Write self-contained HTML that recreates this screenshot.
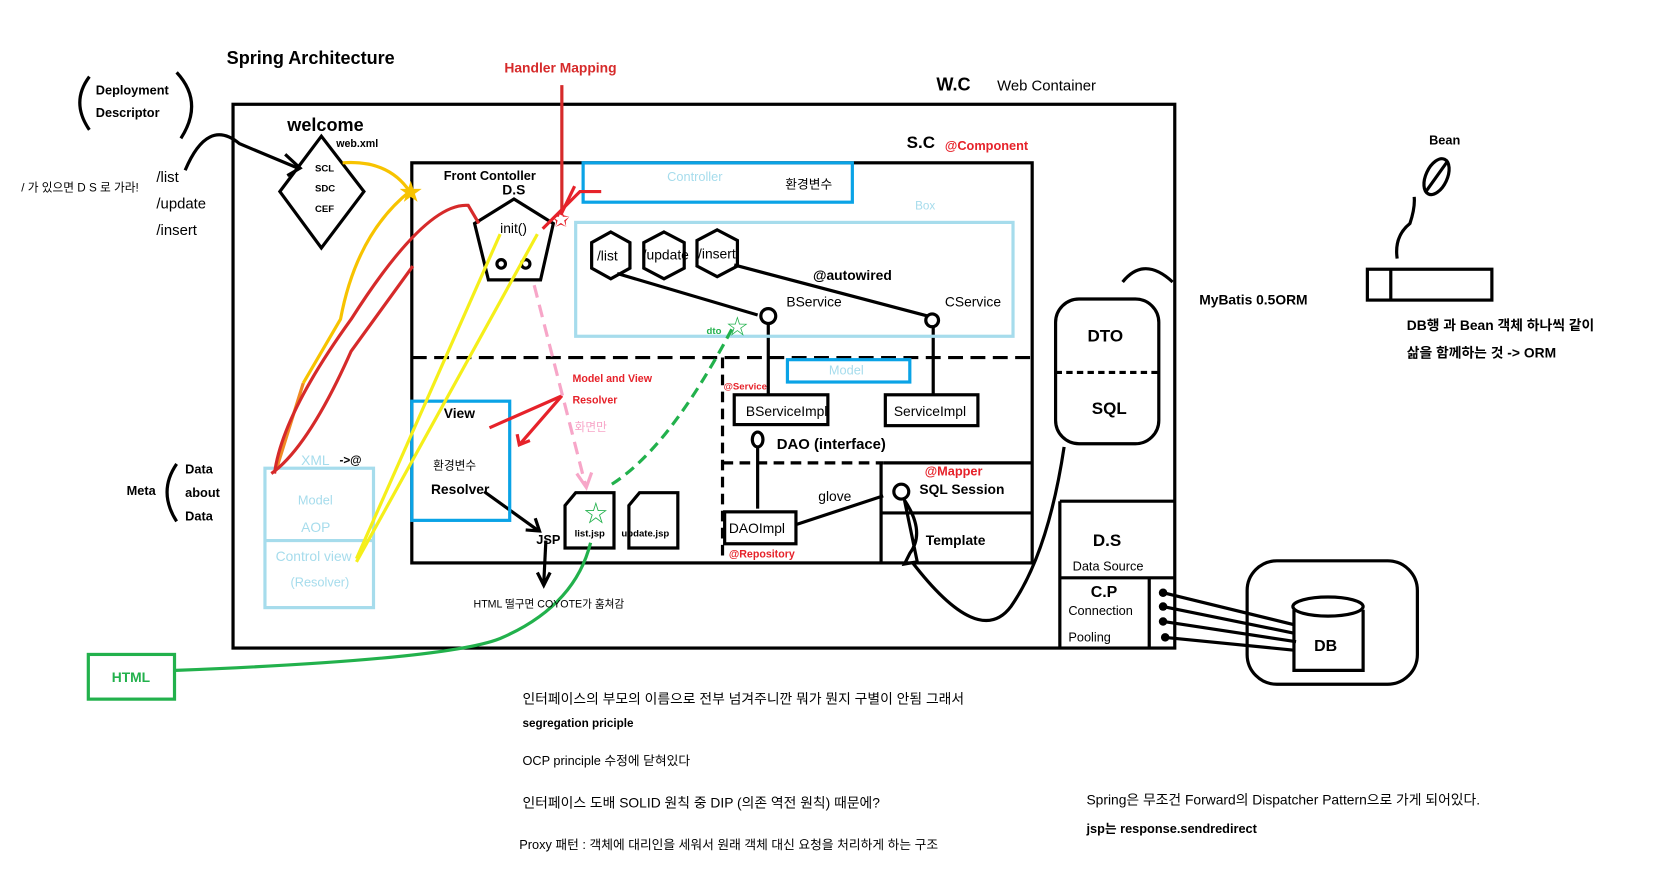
<!DOCTYPE html>
<html><head><meta charset="utf-8"><style>
html,body{margin:0;padding:0;background:#fff;width:1660px;height:896px;overflow:hidden}
svg{display:block}
text{font-family:"Liberation Sans","Noto Sans CJK KR",sans-serif}
.b{font-weight:bold}
</style></head><body>
<svg width="1660" height="896" viewBox="0 0 1560 842" preserveAspectRatio="none" xmlns="http://www.w3.org/2000/svg">
<g fill="none" stroke="#000" stroke-width="3">
<!-- W.C outer -->
<rect x="219" y="98" width="885" height="511"/>
<!-- S.C -->
<rect x="387" y="153" width="583" height="376"/>
<line x1="387" y1="336" x2="970" y2="336" stroke-dasharray="14,7"/>
<line x1="679" y1="336" x2="679" y2="529" stroke-dasharray="10,6"/>
<line x1="679" y1="435" x2="830" y2="435" stroke-dasharray="10,6"/>
<line x1="830" y1="435" x2="970" y2="435"/>
<line x1="828" y1="435" x2="828" y2="529"/>
<line x1="828" y1="482" x2="970" y2="482"/>
<!-- welcome diamond -->
<polygon points="302,128 342,180 302,233 263,180"/>
<!-- DS pentagon -->
<polygon points="483,187 520,210 508,263 459,263 446,210"/>
<circle cx="471" cy="248" r="4"/><circle cx="494" cy="248" r="4"/>
<!-- hexagons -->
<polygon points="574,218 592,228 592,252 574,262 556,252 556,228"/>
<polygon points="624,218 643,228 643,252 624,262 605,252 605,228"/>
<polygon points="674,216 693,226 693,250 674,260 655,250 655,226"/>
<line x1="580" y1="257" x2="712" y2="296"/>
<line x1="690" y1="249" x2="872" y2="297"/>
<circle cx="722" cy="297" r="7"/><circle cx="876" cy="301" r="6"/>
<line x1="722" y1="305" x2="722" y2="370"/>
<line x1="877" y1="307" x2="877" y2="370"/>
<rect x="690" y="371" width="88" height="28"/>
<rect x="832" y="371" width="87" height="29"/>
<ellipse cx="712" cy="413" rx="5" ry="7"/>
<line x1="712" y1="420" x2="712" y2="478"/>
<rect x="681" y="481" width="67" height="30"/>
<line x1="748" y1="493" x2="830" y2="466"/>
<circle cx="847" cy="462" r="7"/>
<path d="M850 470 Q870 500 855 520 L850 530 L862 528 Z"/>
<path d="M857 528 Q920 610 950 570 Q985 520 1000 420"/>
<!-- files -->
<path d="M531 475 L541 463 L577 463 L577 515 L531 515 Z"/>
<path d="M591 475 L601 463 L637 463 L637 515 L591 515 Z"/>
<!-- DTO SQL -->
<rect x="992" y="281" width="97" height="136" rx="22"/>
<line x1="992" y1="350" x2="1089" y2="350" stroke-dasharray="6,4"/>
<path d="M1055 265 Q1075 240 1102 265"/>
<!-- DS / CP -->
<line x1="996" y1="471" x2="1104" y2="471"/>
<line x1="996" y1="471" x2="996" y2="609"/>
<line x1="996" y1="543" x2="1104" y2="543"/>
<line x1="1080" y1="543" x2="1080" y2="609"/>
<!-- DB -->
<rect x="1172" y="527" width="160" height="116" rx="28"/>
<path d="M1216 573 L1216 630 L1281 630 L1281 573"/>
<ellipse cx="1248" cy="570" rx="33" ry="9" fill="#fff"/>
<line x1="1093" y1="557" x2="1216" y2="587"/>
<line x1="1093" y1="570" x2="1216" y2="595"/>
<line x1="1093" y1="584" x2="1218" y2="603"/>
<line x1="1095" y1="599" x2="1216" y2="611"/>
<!-- brackets -->
<path d="M84 72 Q66 96 84 122"/><path d="M166 68 Q192 96 170 130"/>
<path d="M166 436 Q148 462 166 490"/>
<!-- arrow to diamond -->
<path d="M174 160 Q195 110 225 135 L280 158"/>
<path d="M268 145 L282 158 L270 165"/>
<!-- JSP arrows -->
<path d="M455 462 L505 498"/><path d="M494 498 L507 499 L503 487"/>
<path d="M513 508 L511 548"/><path d="M505 538 L511 550 L517 538"/>
<!-- Bean -->
<rect x="1285" y="253" width="117" height="29"/>
<line x1="1307" y1="253" x2="1307" y2="282"/>
<path d="M1313 243 Q1310 222 1325 210 Q1330 195 1329 185"/>
<ellipse cx="1350" cy="166" rx="10" ry="18" transform="rotate(25 1350 166)"/>
<line x1="1340" y1="180" x2="1360" y2="152"/>
</g>
<circle cx="1093" cy="557" r="4"/><circle cx="1093" cy="570" r="4"/><circle cx="1093" cy="584" r="4"/><circle cx="1095" cy="599" r="4"/>
<!-- blue boxes -->
<g fill="none" stroke="#0aa3e6" stroke-width="3">
<rect x="548" y="153" width="253" height="37"/>
<rect x="740" y="338" width="115" height="21"/>
<rect x="387" y="377" width="92" height="112"/>
</g>
<g fill="none" stroke="#a6dcec" stroke-width="3">
<rect x="541" y="209" width="411" height="107"/>
<rect x="249" y="440" width="102" height="131"/>
<line x1="249" y1="508" x2="351" y2="508"/>
</g>
<!-- colored curves -->
<g fill="none" stroke-width="3">
<path d="M322 153 Q365 150 385 180" stroke="#f7c300"/>
<path d="M385 180 Q335 220 320 300 L285 360" stroke="#f7c300"/>
<path d="M285 360 L260 440" stroke="#f08a24"/>
<path d="M258 445 Q265 390 330 300 Q400 190 440 193 L450 210" stroke="#d62a2a"/>
<path d="M255 445 Q290 420 330 330 L388 250" stroke="#d62a2a"/>
<path d="M335 525 L470 220" stroke="#f5ef1a"/>
<path d="M335 528 L505 220" stroke="#f5ef1a"/>
<path d="M528 200 L528 80" stroke="#d62a2a"/>
<path d="M510 215 L545 180 L565 180" stroke="#e6222a"/>
<path d="M527 202 L540 175" stroke="#e6222a"/>
<path d="M460 402 L528 372 L488 418" stroke="#e6222a"/>
<path d="M486 408 L488 418 L498 414" stroke="#e6222a"/>
<path d="M502 268 L550 455" stroke="#f7a6c8" stroke-dasharray="12,7"/>
<path d="M542 445 L551 458 L556 444" stroke="#f7a6c8"/>
<path d="M575 455 Q630 420 690 305" stroke="#22b14c" stroke-dasharray="10,6"/>
<path d="M165 630 Q420 620 470 600 Q540 570 555 510" stroke="#22b14c"/>
</g>
<rect x="83" y="615" width="81" height="42" fill="none" stroke="#22b14c" stroke-width="3"/>
<text x="386" y="188" font-size="22" fill="#f7c300" text-anchor="middle">★</text>
<text x="527" y="213" font-size="20" fill="#e6222a" text-anchor="middle">✩</text>
<text x="693" y="314" font-size="20" fill="#22b14c" text-anchor="middle">☆</text>
<text x="560" y="490" font-size="22" fill="#22b14c" text-anchor="middle">☆</text>
<!-- texts -->
<g fill="#000">
<text x="213" y="60" font-size="17" class="b">Spring Architecture</text>
<text x="90" y="89" font-size="12" class="b">Deployment</text>
<text x="90" y="110" font-size="12" class="b">Descriptor</text>
<text x="270" y="123" font-size="17" class="b">welcome</text>
<text x="316" y="138" font-size="10" class="b">web.xml</text>
<text x="296" y="161" font-size="9" class="b">SCL</text>
<text x="296" y="180" font-size="9" class="b">SDC</text>
<text x="296" y="199" font-size="9" class="b">CEF</text>
<text x="20" y="180" font-size="11">/ 가 있으면 D S 로 가라!</text>
<text x="147" y="171" font-size="14">/list</text>
<text x="147" y="196" font-size="14">/update</text>
<text x="147" y="221" font-size="14">/insert</text>
<text x="880" y="85" font-size="17" class="b">W.C</text>
<text x="937" y="85" font-size="14">Web Container</text>
<text x="852" y="139" font-size="16" class="b">S.C</text>
<text x="417" y="169" font-size="12" class="b">Front Contoller</text>
<text x="472" y="183" font-size="13" class="b">D.S</text>
<text x="470" y="219" font-size="13">init()</text>
<text x="561" y="245" font-size="13">/list</text>
<text x="604" y="244" font-size="13">/update</text>
<text x="656" y="243" font-size="13">/insert</text>
<text x="764" y="263" font-size="13" class="b">@autowired</text>
<text x="739" y="288" font-size="13">BService</text>
<text x="888" y="288" font-size="13">CService</text>
<text x="738" y="177" font-size="12">환경변수</text>
<text x="701" y="391" font-size="13">BServiceImpl</text>
<text x="840" y="391" font-size="13">ServiceImpl</text>
<text x="730" y="422" font-size="14" class="b">DAO (interface)</text>
<text x="769" y="471" font-size="13">glove</text>
<text x="864" y="464" font-size="13" class="b">SQL Session</text>
<text x="870" y="512" font-size="13" class="b">Template</text>
<text x="685" y="501" font-size="13">DAOImpl</text>
<text x="417" y="393" font-size="13" class="b">View</text>
<text x="407" y="441" font-size="11">환경변수</text>
<text x="405" y="464" font-size="13" class="b">Resolver</text>
<text x="504" y="511" font-size="12" class="b">JSP</text>
<text x="540" y="504" font-size="9" class="b">list.jsp</text>
<text x="584" y="504" font-size="9" class="b">update.jsp</text>
<text x="445" y="571" font-size="10">HTML 떨구면 COYOTE가 훔쳐감</text>
<text x="1022" y="321" font-size="16" class="b">DTO</text>
<text x="1026" y="389" font-size="16" class="b">SQL</text>
<text x="1127" y="286" font-size="13" class="b">MyBatis  0.5ORM</text>
<text x="1027" y="513" font-size="16" class="b">D.S</text>
<text x="1008" y="536" font-size="12">Data Source</text>
<text x="1025" y="561" font-size="15" class="b">C.P</text>
<text x="1004" y="578" font-size="12">Connection</text>
<text x="1004" y="603" font-size="12">Pooling</text>
<text x="1235" y="612" font-size="15" class="b">DB</text>
<text x="1343" y="136" font-size="12" class="b">Bean</text>
<text x="1322" y="310" font-size="13" class="b">DB행 과 Bean 객체 하나씩 같이</text>
<text x="1322" y="336" font-size="13" class="b">삶을 함께하는 것 -&gt; ORM</text>
<text x="119" y="465" font-size="12" class="b">Meta</text>
<text x="174" y="445" font-size="12" class="b">Data</text>
<text x="174" y="467" font-size="12" class="b">about</text>
<text x="174" y="489" font-size="12" class="b">Data</text>
<text x="319" y="436" font-size="11" class="b">-&gt;@</text>
<text x="491" y="661" font-size="13">인터페이스의 부모의 이름으로 전부 넘겨주니깐 뭐가 뭔지 구별이 안됨 그래서</text>
<text x="491" y="683" font-size="11" class="b">segregation priciple</text>
<text x="491" y="719" font-size="12">OCP principle 수정에 닫혀있다</text>
<text x="491" y="759" font-size="13">인터페이스 도배     SOLID 원칙 중 DIP (의존 역전 원칙) 때문에?</text>
<text x="488" y="798" font-size="12">Proxy 패턴 : 객체에 대리인을 세워서 원래 객체 대신 요청을 처리하게 하는 구조</text>
<text x="1021" y="756" font-size="13">Spring은 무조건 Forward의 Dispatcher Pattern으로 가게 되어있다.</text>
<text x="1021" y="783" font-size="12" class="b">jsp는 response.sendredirect</text>
</g>
<g class="b" fill="#e6222a">
<text x="474" y="68" font-size="13" class="b" fill="#d62a2a">Handler Mapping</text>
<text x="888" y="141" font-size="12" class="b">@Component</text>
<text x="538" y="359" font-size="10" class="b">Model and View</text>
<text x="538" y="379" font-size="10" class="b">Resolver</text>
<text x="680" y="366" font-size="9" class="b">@Service</text>
<text x="869" y="447" font-size="12" class="b">@Mapper</text>
<text x="685" y="524" font-size="10" class="b">@Repository</text>
</g>
<text x="540" y="405" font-size="11" fill="#f7a6c8">화면만</text>
<text x="664" y="314" font-size="9" fill="#22b14c" class="b">dto</text>
<g fill="#a6dcec">
<text x="627" y="170" font-size="12">Controller</text>
<text x="860" y="197" font-size="11">Box</text>
<text x="779" y="352" font-size="12">Model</text>
<text x="283" y="437" font-size="13">XML</text>
<text x="280" y="474" font-size="12">Model</text>
<text x="283" y="500" font-size="13">AOP</text>
<text x="259" y="527" font-size="13">Control view</text>
<text x="273" y="551" font-size="12">(Resolver)</text>
</g>
<text x="105" y="641" font-size="13" fill="#22b14c" class="b">HTML</text>
</svg>
</body></html>
